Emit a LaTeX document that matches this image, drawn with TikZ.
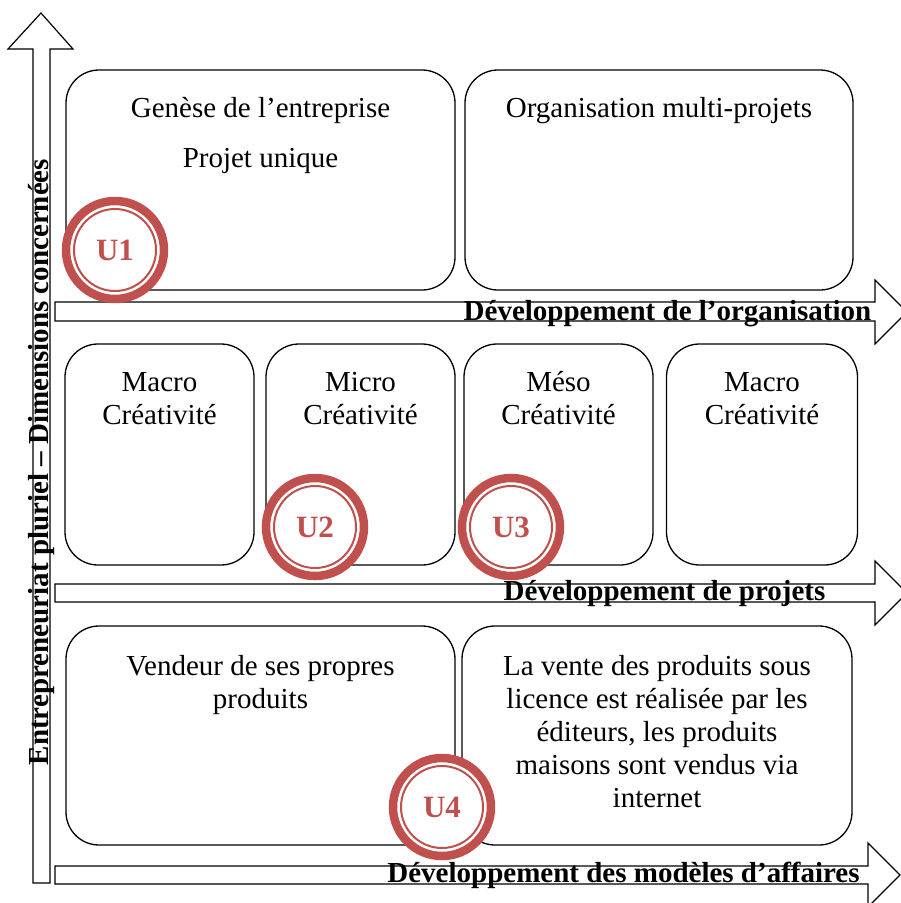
\documentclass[tikz,border=0pt]{standalone}
\usepackage{fontspec}
\setmainfont{Liberation Serif}
\usepackage{xcolor}
\definecolor{rougeU}{HTML}{C0504D}

\begin{document}
\begin{tikzpicture}[x=1pt, y=-1pt,
	boite/.style={draw, line width=1.3pt, rounded corners=33pt, inner sep=0pt},
	fleche/.style={draw, fill=white, line width=1.2pt, line join=miter},
	texte/.style={font=\fontsize{29}{33}\selectfont, align=center, inner sep=0pt, anchor=north},
	axe/.style={font=\fontsize{29}{33}\selectfont\bfseries, inner sep=0pt, anchor=base},
	unite/.style={circle, draw=rougeU, line width=8.5pt, fill=white, minimum size=98pt, inner sep=0pt, text=rougeU, font=\fontsize{31}{33}\selectfont\bfseries},
	anneau/.style={draw=rougeU, line width=2pt}]
			\useasboundingbox (0,0) rectangle (901,903);
			\clip (0,0) rectangle (901,903);
			
			% axes
			\draw[fleche] (33,883) -- (33,49) -- (8,49) -- (41,13) -- (73,49) -- (50,49) -- (50,883) -- cycle;
			\draw[fleche] (55,302) -- (875,302) -- (875,280) -- (907,312) -- (875,344) -- (875,321) -- (55,321) -- cycle;
			\draw[fleche] (55,584) -- (875,584) -- (875,561) -- (907,593) -- (875,625) -- (875,602) -- (55,602) -- cycle;
			\draw[fleche] (55,866) -- (868,866) -- (868,843) -- (900,875) -- (868,907) -- (868,884) -- (55,884) -- cycle;
			
			% organisation
			\node[boite, minimum width=389pt, minimum height=220pt] (genese) at (260.5,180) {};
			\node[boite, minimum width=388pt, minimum height=220pt] (multi) at (659,180) {};
			\node[texte] (tgenese) at (260.5,97) {Genèse de l’entreprise\\[17pt]Projet unique};
			\node[texte] (tmulti) at (659,97) {Organisation multi-projets};
			
			% projets
			\node[boite, minimum width=189pt, minimum height=221pt] (macroA) at (159.5,454.5) {};
			\node[boite, minimum width=189pt, minimum height=221pt] (micro) at (360.5,454.5) {};
			\node[boite, minimum width=189pt, minimum height=221pt] (meso) at (558.5,454.5) {};
			\node[boite, minimum width=191pt, minimum height=221pt] (macroB) at (762,454.5) {};
			\node[texte] (tmacroA) at (159.5,372) {Macro\\Créativité};
			\node[texte] (tmicro) at (360.5,372) {Micro\\Créativité};
			\node[texte] (tmeso) at (558.5,371) {Méso\\Créativité};
			\node[texte] (tmacroB) at (762,372) {Macro\\Créativité};
			
			% modeles d'affaires
			\node[boite, minimum width=389pt, minimum height=219pt] (vendeur) at (260.5,735.5) {};
			\node[boite, minimum width=390pt, minimum height=219pt] (licence) at (657,735.5) {};
			\node[texte] (tvendeur) at (260.5,655) {Vendeur de ses propres\\produits};
			\node[texte] (tlicence) at (657,655) {La vente des produits sous\\licence est réalisée par les\\éditeurs, les produits\\maisons sont vendus via\\internet};
			
			% libelles des axes
			\node[axe] (lorga) at (667.5,320) {Développement de l’organisation};
			\node[axe] (lprojets) at (664.5,600) {Développement de projets};
			\node[axe] (lmodeles) at (623.5,882) {Développement des modèles d’affaires};
			\node[axe, rotate=90] (ldims) at (48,462) {Entrepreneuriat pluriel – Dimensions concernées};
			
			% unites
			\node[unite] (u1) at (115,250) {U1};
			\node[unite] (u2) at (315,527) {U2};
			\node[unite] (u3) at (511,527) {U3};
			\node[unite] (u4) at (442,807) {U4};
			\foreach \u in {u1,u2,u3,u4}
				\draw[anneau] (\u.center) circle (41);
		\end{tikzpicture}
\end{document}
